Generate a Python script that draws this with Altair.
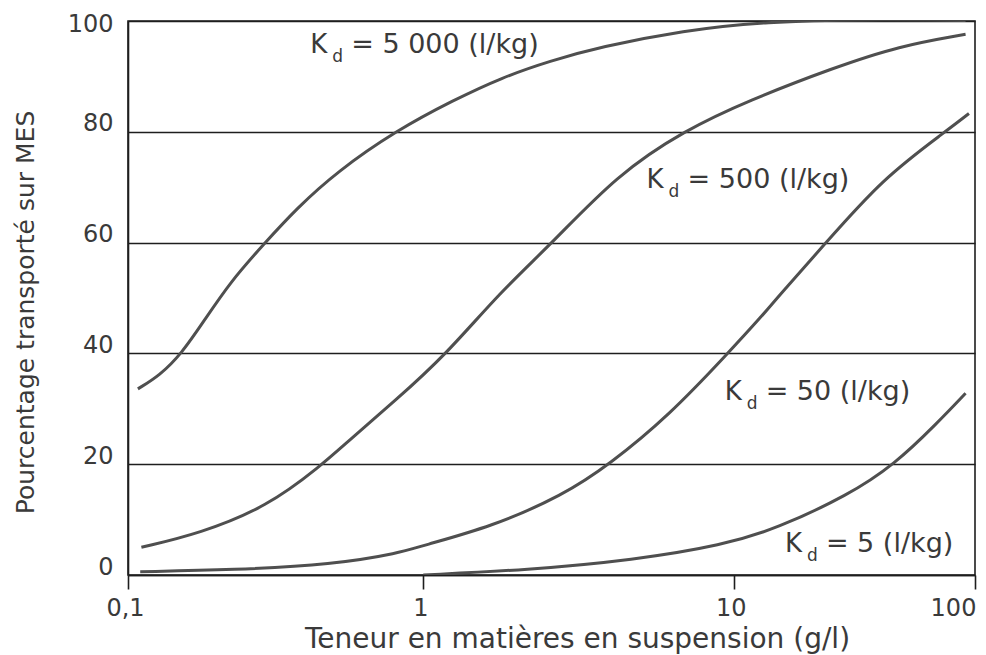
import altair as alt
import pandas as pd

# ---- data ----
x_ticks = [0.1, 1, 10, 100]
x_tick_labels = ["0,1", "1", "10", "100"]
y_ticks = [0, 20, 40, 60, 80, 100]

kd5000_x = [0.108, 0.128, 0.152, 0.180, 0.222, 0.288, 0.373, 0.510, 0.814, 1.25, 1.79, 2.56, 3.71, 6.87, 13.6, 35.3, 91.4]
kd5000_y = [33.6, 36.0, 40.0, 45.7, 52.9, 59.7, 66.2, 72.8, 80.3, 85.7, 89.8, 92.8, 95.3, 98.3, 99.9, 100.3, 100.1]

kd500_x = [0.111, 0.175, 0.295, 0.448, 0.566, 0.793, 1.18, 1.77, 2.58, 4.20, 6.96, 11.6, 25.7, 48.5, 91.4]
kd500_y = [5.0, 7.5, 12.3, 19.6, 24.5, 31.2, 39.7, 51.1, 59.7, 72.2, 80.3, 85.7, 91.5, 95.5, 97.6]

kd50_x = [0.110, 0.227, 0.495, 0.836, 0.977, 1.66, 2.82, 3.97, 6.22, 9.5, 13.2, 15.1, 23.5, 41.4, 76.9, 94.4]
kd50_y = [0.6, 0.9, 1.9, 4.0, 5.2, 8.7, 14.4, 19.9, 28.9, 39.8, 46.9, 50.0, 59.4, 71.6, 80.3, 83.3]

kd5_x = [1.0, 2.16, 4.77, 9.26, 15.1, 29.8, 46.3, 69.7, 91.4]
kd5_y = [0.0, 0.9, 2.7, 5.4, 8.4, 14.4, 19.9, 27.4, 32.8]

series_names = ["5000", "500", "50", "5"]
series_x = [kd5000_x, kd500_x, kd50_x, kd5_x]
series_y = [kd5000_y, kd500_y, kd50_y, kd5_y]

label_main = ["= 5 000 (l/kg)", "= 500 (l/kg)", "= 50 (l/kg)", "= 5 (l/kg)"]
label_x = [0.414, 5.24, 9.35, 16.3]
label_y = [94.2, 69.8, 31.6, 4.2]

x_title = "Teneur en matières en suspension (g/l)"
y_title = "Pourcentage transporté sur MES"

# ---- build tables ----
rows = []
for name, xs, ys in zip(series_names, series_x, series_y):
    for i, (a, b) in enumerate(zip(xs, ys)):
        rows.append({"kd": name, "x": a, "y": b, "order": i})
df = pd.DataFrame(rows)

labels = pd.DataFrame({"x": label_x, "y": label_y, "main": label_main})

label_expr = "''"
for v, l in reversed(list(zip(x_ticks, x_tick_labels))):
    label_expr = f"datum.value == {v} ? '{l}' : {label_expr}"

FONT = "DejaVu Sans"
TXT = "#3a3a3a"
LINE = "#1e1e1e"

xscale = alt.Scale(type="log", domain=x_ticks, range=[0, 295.3, 605.7, 847], nice=False)
yscale = alt.Scale(domain=[0, 100], nice=False)

xaxis = alt.Axis(
    values=x_ticks, labelExpr=label_expr, grid=False,
    ticks=True, tickSize=14, tickColor=LINE, tickWidth=1.6,
    domainColor=LINE, domainWidth=1.6,
    labelFont=FONT, labelFontSize=24, labelColor=TXT, labelBaseline="alphabetic",
    labelPadding=26, labelFlush=False,
    labelOffset={"condition": {"test": "datum.value == 100", "value": -22}, "value": -3},
    title=x_title, titleFont=FONT, titleFontSize=28, titleFontWeight="normal", titleColor=TXT,
    titleX=449, titleY=72, titleAlign="center", titleBaseline="alphabetic",
)
yaxis = alt.Axis(
    values=y_ticks, grid=True, gridColor=LINE, gridWidth=1.6,
    ticks=False, tickSize=0, domainColor=LINE, domainWidth=1.6,
    labelFont=FONT, labelFontSize=24, labelColor=TXT, labelAlign="right",
    labelBaseline="alphabetic", labelPadding=15,
    labelOffset={"condition": {"test": "datum.value == 100", "value": 10}, "value": -1},
    title=y_title, titleFont=FONT, titleFontSize=25, titleFontWeight="normal", titleColor=TXT,
    titleX=-103, titleY=291, titleAngle=270, titleAlign="center", titleBaseline="middle",
)

lines = alt.Chart(df).mark_line(color="#4f4f4f", strokeWidth=3, interpolate="basis", clip=True).encode(
    x=alt.X("x:Q", scale=xscale, axis=xaxis),
    y=alt.Y("y:Q", scale=yscale, axis=yaxis),
    detail="kd:N",
    order="order:Q",
)

base = alt.Chart(labels).encode(
    x=alt.X("x:Q", scale=xscale),
    y=alt.Y("y:Q", scale=yscale),
)
k_txt = base.mark_text(font=FONT, fontSize=26, color=TXT, align="left", baseline="alphabetic").encode(text=alt.value("K"))
d_txt = base.mark_text(font=FONT, fontSize=17, color=TXT, align="left", baseline="alphabetic", dx=22, dy=9).encode(text=alt.value("d"))
m_txt = base.mark_text(font=FONT, fontSize=27, color=TXT, align="left", baseline="alphabetic", dx=41).encode(text="main:N")

chart = (lines + k_txt + d_txt + m_txt).properties(
    width=847, height=554,
    autosize=alt.AutoSizeParams(type="none"),
    padding={"left": 120, "top": 13, "right": 3, "bottom": 82},
    background="white",
).configure_view(stroke=LINE, strokeWidth=1.6)

chart.save("out.html", embed_options={"renderer": "svg", "actions": False})
